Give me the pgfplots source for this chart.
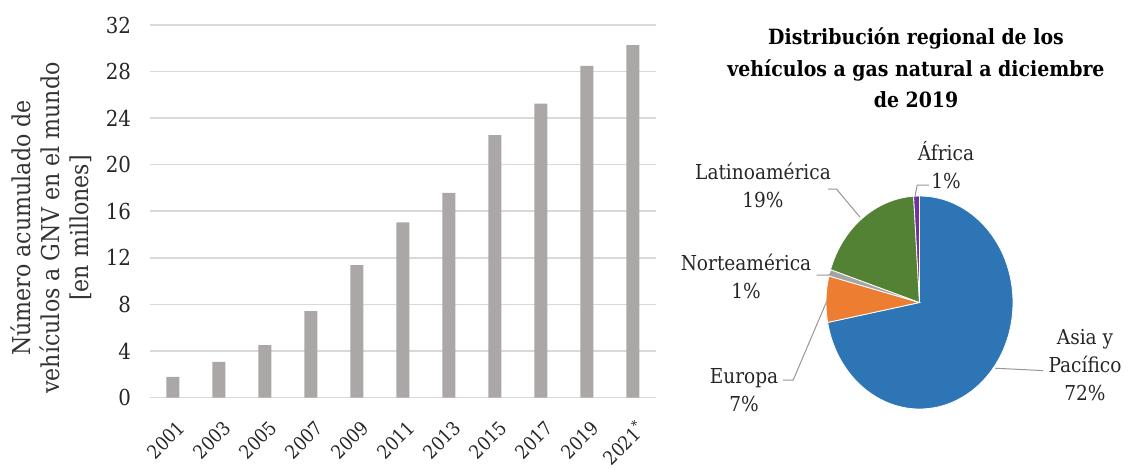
\documentclass[border=0pt]{standalone}
\usepackage{pgfplots}
\pgfplotsset{compat=1.18}
\usepackage{fontspec}
\setmainfont{DejaVu Serif Condensed}

\definecolor{barcol}{RGB}{171,167,166}
\definecolor{gridcol}{RGB}{217,217,217}
\definecolor{leadcol}{RGB}{150,150,150}
\definecolor{asia}{RGB}{46,117,182}
\definecolor{europa}{RGB}{237,125,49}
\definecolor{norte}{RGB}{165,165,165}
\definecolor{latino}{RGB}{84,130,53}
\definecolor{africa}{RGB}{112,48,160}

% Cumulative NGV fleet, millions
\pgfplotstableread{
x year value
0 2001 1.78
1 2003 3.07
2 2005 4.50
3 2007 7.42
4 2009 11.37
5 2011 15.04
6 2013 17.59
7 2015 22.55
8 2017 25.24
9 2019 28.48
10 2021 30.28
}\fleet

% Regional shares, December 2019 (percent)
\def\pAsia{72}
\def\pEuropa{7}
\def\pNorte{1}
\def\pLatino{19}
\def\pAfrica{1}
\pgfmathsetmacro\aA{90}
\pgfmathsetmacro\aB{\aA-3.6*\pAsia}
\pgfmathsetmacro\aC{\aB-3.6*\pEuropa}
\pgfmathsetmacro\aD{\aC-3.6*\pNorte}
\pgfmathsetmacro\aE{\aD-3.6*\pLatino}
\pgfmathsetmacro\aF{\aE-3.6*\pAfrica}

\begin{document}
\begin{tikzpicture}
\path[use as bounding box] (0,0) rectangle (566pt,-234pt);

\begin{axis}[
  at={(75pt,-198.75pt)}, anchor=south west,
  scale only axis, width=253pt, height=186.25pt,
  xmin=-0.5, xmax=10.5, ymin=0, ymax=32,
  ybar, bar width=6.5pt,
  xtick={0,...,10},
  xticklabels={2001,2003,2005,2007,2009,2011,2013,2015,2017,2019,2021\textsuperscript{*}},
  ytick={0,4,...,32},
  ymajorgrids, grid style={gridcol, line width=0.8pt},
  axis line style={draw=none}, tick style={draw=none},
  /pgf/number format/assume math mode=true,
  tick label style={text=black!85},
  yticklabel style={font=\fontsize{11}{12}\selectfont, xshift=-6pt},
  xticklabel style={font=\fontsize{9.5}{11}\selectfont, rotate=45, anchor=east,
    inner sep=0pt, xshift=-3.5pt, yshift=-9.5pt},
  ylabel={Número acumulado de\\vehículos a GNV en el mundo\\{[}en millones{]}},
  ylabel style={at={(axis description cs:-0.195,0.455)}, anchor=center, align=center,
    font=\fontsize{12.3}{14.5}\selectfont, text=black!80},
]
\addplot[fill=barcol, draw=none] table[x=x, y=value] {\fleet};
\end{axis}

\begin{axis}[
  at={(459.75pt,-151.25pt)}, anchor=center,
  scale only axis, width=93.5pt, height=106.5pt,
  xmin=-1, xmax=1, ymin=-1, ymax=1, hide axis,
]
\fill[asia, draw=white, line width=0.4pt] (axis cs:0,0) -- ++(\aA:46.75pt and 53.25pt)
  arc[start angle=\aA, end angle=\aB, x radius=46.75pt, y radius=53.25pt] -- cycle;
\fill[europa, draw=white, line width=0.4pt] (axis cs:0,0) -- ++(\aB:46.75pt and 53.25pt)
  arc[start angle=\aB, end angle=\aC, x radius=46.75pt, y radius=53.25pt] -- cycle;
\fill[norte, draw=white, line width=0.4pt] (axis cs:0,0) -- ++(\aC:46.75pt and 53.25pt)
  arc[start angle=\aC, end angle=\aD, x radius=46.75pt, y radius=53.25pt] -- cycle;
\fill[latino, draw=white, line width=0.4pt] (axis cs:0,0) -- ++(\aD:46.75pt and 53.25pt)
  arc[start angle=\aD, end angle=\aE, x radius=46.75pt, y radius=53.25pt] -- cycle;
\fill[africa, draw=white, line width=0.4pt] (axis cs:0,0) -- ++(\aE:46.75pt and 53.25pt)
  arc[start angle=\aE, end angle=\aF, x radius=46.75pt, y radius=53.25pt] -- cycle;
\end{axis}

% pie title
\node[align=center, font=\bfseries\fontsize{10.5}{15.75}\selectfont] at (458pt,-34pt)
  {Distribución regional de los\\vehículos a gas natural a diciembre\\de 2019};

% leader lines
\begin{scope}[leadcol, line width=0.5pt]
\draw (457.5pt,-98.3pt) -- (458.6pt,-92.5pt) -- (464.6pt,-92.5pt);
\draw (414.1pt,-94.6pt) -- (418.3pt,-94.6pt) -- (430pt,-108.6pt);
\draw (408.3pt,-137.6pt) -- (414.1pt,-137.6pt) -- (416.3pt,-136.3pt);
\draw (391.6pt,-190pt) -- (396.6pt,-190pt) -- (413.3pt,-150.8pt);
\draw (497.5pt,-184.1pt) -- (521.6pt,-185.3pt);
\end{scope}

% slice labels
\begin{scope}[every node/.style={align=center, font=\fontsize{10.3}{14}\selectfont, text=black!85}]
\node at (473pt,-82.5pt) {África\\1\%};
\node at (381.5pt,-92.5pt) {Latinoamérica\\19\%};
\node at (373pt,-138pt) {Norteamérica\\1\%};
\node at (372pt,-195pt) {Europa\\7\%};
\node at (542.5pt,-182.5pt) {Asia y\\Pacífico\\72\%};
\end{scope}
\end{tikzpicture}
\end{document}
